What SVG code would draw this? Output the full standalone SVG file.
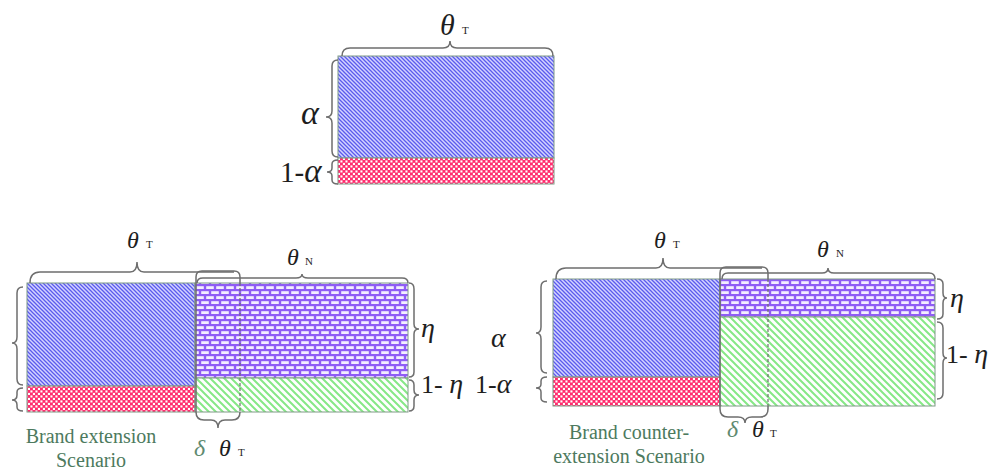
<svg xmlns="http://www.w3.org/2000/svg" width="1002" height="472" viewBox="0 0 1002 472">
<defs>
<pattern id="pBlue" width="4" height="4" patternUnits="userSpaceOnUse">
<rect width="4" height="4" fill="#d4d4ff"/>
<path d="M-1,-1 L5,5 M-1,3 L1,5 M3,-1 L5,1" stroke="#5a5aee" stroke-width="1.3"/>
</pattern>
<pattern id="pRed" width="5" height="5" patternUnits="userSpaceOnUse">
<rect width="5" height="5" fill="#ff2d6e"/>
<rect x="0.4" y="0.4" width="2.1" height="2.1" fill="#ffffff"/>
<rect x="2.9" y="2.9" width="2.1" height="2.1" fill="#ffffff"/>
</pattern>
<pattern id="pBrick" width="10" height="10" patternUnits="userSpaceOnUse">
<rect width="10" height="10" fill="#8f5cf5"/>
<rect x="1.2" y="1.2" width="7.6" height="2.8" fill="#f3edff"/>
<rect x="-3.8" y="6.2" width="7.6" height="2.8" fill="#f3edff"/>
<rect x="6.2" y="6.2" width="7.6" height="2.8" fill="#f3edff"/>
</pattern>
<pattern id="pGreen" width="7" height="7" patternUnits="userSpaceOnUse">
<rect width="7" height="7" fill="#ffffff"/>
<path d="M-1,-1 L8,8 M-1,6 L1,8 M6,-1 L8,1" stroke="#86e886" stroke-width="2"/>
</pattern>
</defs>
<style>
.area{stroke:#7f9a86;stroke-width:1}
.brace{fill:none;stroke:#6e6e6e;stroke-width:1.5}
.dash{fill:none;stroke:#6e6e6e;stroke-width:1.2;stroke-dasharray:3 2}
.lbl{fill:#1e1e1e}
.it{font-style:italic}
.sub{font-size:11px;fill:#1e1e1e}
.cap{font-size:20px;fill:#4d7a5e;text-anchor:middle}
.grn{fill:#5f8a70}
</style>

<g id="top-diagram">
<rect class="area" x="338" y="56" width="216" height="102" fill="url(#pBlue)"/>
<rect class="area" x="338" y="158" width="216" height="26" fill="url(#pRed)"/>
</g>

<g id="left-diagram">
<rect class="area" x="27" y="283" width="168" height="103" fill="url(#pBlue)"/>
<rect class="area" x="27" y="386" width="168" height="26" fill="url(#pRed)"/>
<rect class="area" x="195" y="283" width="213" height="95" fill="url(#pBrick)"/>
<rect class="area" x="195" y="378" width="213" height="34" fill="url(#pGreen)"/>
</g>

<g id="right-diagram">
<rect class="area" x="553" y="279" width="167" height="98" fill="url(#pBlue)"/>
<rect class="area" x="553" y="377" width="167" height="29" fill="url(#pRed)"/>
<rect class="area" x="720" y="279" width="215" height="38" fill="url(#pBrick)"/>
<rect class="area" x="720" y="317" width="215" height="89" fill="url(#pGreen)"/>
</g>

<g id="connectors">
<path class="brace" d="M342,56 Q342,48 350,48 L443,48 Q450,48 450,41 Q450,48 457,48 L545,48 Q553,48 553,56"/>
<path class="brace" d="M338,60 Q332,60 332,66 L332,111 Q332,117 326,117 Q332,117 332,123 L332,151 Q332,157 338,157"/>
<path class="brace" d="M338,160 Q332,160 332,164 L332,168 Q332,172 327,172 Q332,172 332,176 L332,180 Q332,184 338,184"/>
<path class="brace" d="M30,283 Q30,272 40,272 L130,272 Q137,272 137,262 Q137,272 144,272 L234,272"/>
<path class="brace" d="M196,283 L196,277 Q196,271 202,271 L234,271 Q240,271 240,277 L240,283"/>
<path class="dash" d="M240,283 L240,412"/>
<path class="brace" d="M196,283 L196,412 Q196,420 204,420 L211,420 Q218,420 218,428 Q218,420 225,420 L232,420 Q240,420 240,412"/>
<path class="brace" d="M197,283 Q197,278 203,278 L296,278 Q302,278 302,274 Q302,278 308,278 L402,278 Q408,278 408,283"/>
<path class="brace" d="M409,283 Q414,283 414,289 L414,324 Q414,329 419,329 Q414,329 414,334 L414,372 Q414,377 409,377"/>
<path class="brace" d="M409,380 Q414,380 414,385 L414,390 Q414,395 419,395 Q414,395 414,400 L414,406 Q414,411 409,411"/>
<path class="brace" d="M23,287 Q17,287 17,293 L17,337 Q17,343 12,343 Q17,343 17,349 L17,379 Q17,385 23,385"/>
<path class="brace" d="M23,388 Q17,388 17,392 L17,395 Q17,400 12,400 Q17,400 17,405 L17,407 Q17,411 23,411"/>
<path class="brace" d="M556,279 Q556,268 566,268 L656,268 Q663,268 663,258 Q663,268 670,268 L762,268"/>
<path class="brace" d="M720,279 L720,273 Q720,267 726,267 L762,267 Q768,267 768,273 L768,279"/>
<path class="dash" d="M768,279 L768,406"/>
<path class="brace" d="M720,279 L720,409 Q720,417 728,417 L738,417 Q745,417 745,423 Q745,417 752,417 L760,417 Q768,417 768,409 L768,406"/>
<path class="brace" d="M722,279 Q722,273 728,273 L822,273 Q828,273 828,268 Q828,273 834,273 L929,273 Q935,273 935,279"/>
<path class="brace" d="M937,279 Q943,279 943,284 L943,293 Q943,298 947,298 Q943,298 943,303 L943,314 Q943,319 937,319"/>
<path class="brace" d="M937,322 Q943,322 943,328 L943,353 Q943,358 947,358 Q943,358 943,363 L943,393 Q943,399 937,399"/>
<path class="brace" d="M547,281 Q541,281 541,287 L541,327 Q541,333 536,333 Q541,333 541,339 L541,367 Q541,373 547,373"/>
<path class="brace" d="M547,377 Q541,377 541,381 L541,384 Q541,388 536,388 Q541,388 541,392 L541,398 Q541,402 547,402"/>
</g>

<g id="labels" font-family="'Liberation Serif', 'Times New Roman', Times, serif">
<text class="lbl it" x="440" y="35" font-size="30">θ</text><text class="sub" x="462" y="34" font-size="12">T</text>
<text class="lbl it" x="301" y="124" font-size="34">α</text>
<text class="lbl" x="280" y="182" font-size="29">1-<tspan class="it" font-size="33">α</tspan></text>

<text class="lbl it" x="127" y="248" font-size="24">θ</text><text class="sub" x="146" y="248">T</text>
<text class="lbl it" x="287" y="265" font-size="24">θ</text><text class="sub" x="305" y="265">N</text>
<text class="lbl it" x="421" y="337" font-size="28">η</text>
<text class="lbl" x="421" y="393" font-size="26">1- <tspan class="it" font-size="28">η</tspan></text>
<text class="cap" x="91" y="443">Brand extension</text>
<text class="cap" x="91" y="467">Scenario</text>
<text class="lbl it grn" x="194" y="456" font-size="24">δ</text>
<text class="lbl it" x="219" y="456" font-size="24">θ</text><text class="sub" x="238" y="456">T</text>

<text class="lbl it" x="654" y="248" font-size="24">θ</text><text class="sub" x="673" y="248">T</text>
<text class="lbl it" x="817" y="257" font-size="24">θ</text><text class="sub" x="836" y="257">N</text>
<text class="lbl it" x="950" y="307" font-size="28">η</text>
<text class="lbl" x="946" y="363" font-size="26">1- <tspan class="it" font-size="28">η</tspan></text>
<text class="lbl it" x="491" y="347" font-size="28">α</text>
<text class="lbl" x="475" y="393" font-size="26">1-<tspan class="it" font-size="28">α</tspan></text>
<text class="cap" x="629" y="439">Brand counter-</text>
<text class="cap" x="629" y="463">extension Scenario</text>
<text class="lbl it grn" x="727" y="437" font-size="24">δ</text>
<text class="lbl it" x="752" y="437" font-size="24">θ</text><text class="sub" x="770" y="437">T</text>
</g>
</svg>
